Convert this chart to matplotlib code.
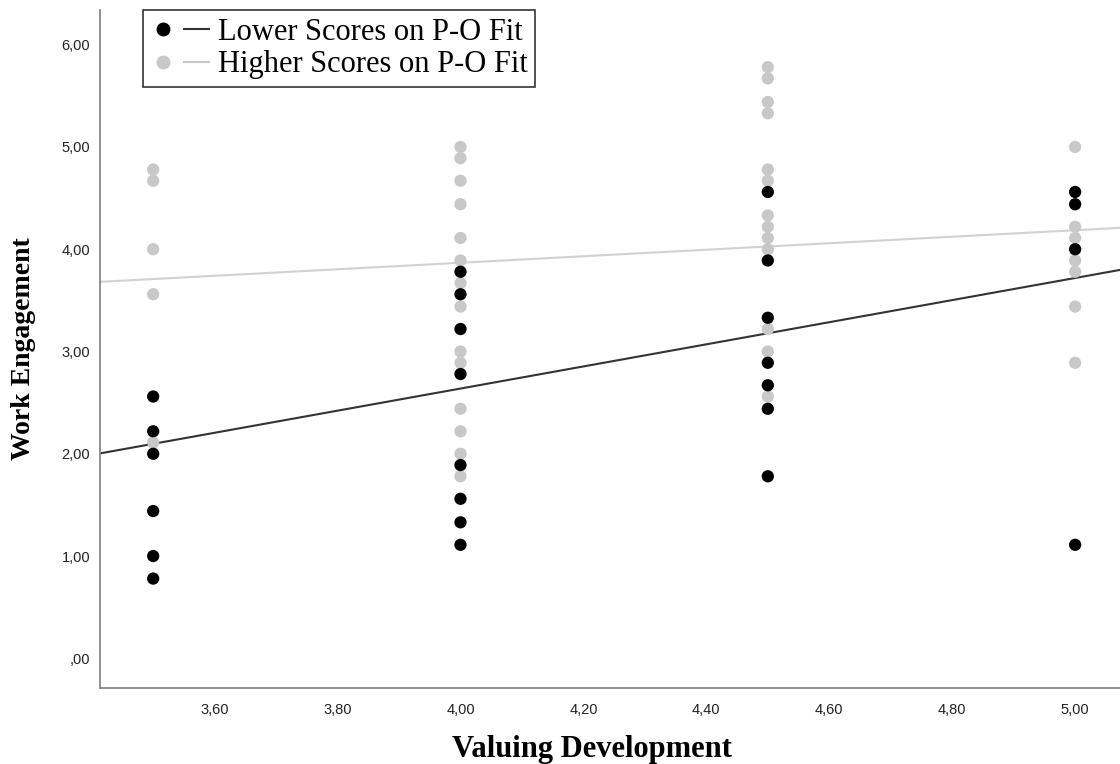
import matplotlib
matplotlib.use("Agg")
import matplotlib.pyplot as plt
from matplotlib.lines import Line2D
from matplotlib.legend_handler import HandlerTuple

# ---- data ----
lower_x = [3.5]*6 + [4.0]*8 + [4.5]*7 + [5.0]*4
lower_y = [2.56, 2.22, 2.00, 1.44, 1.00, 0.78,
           3.78, 3.56, 3.22, 2.78, 1.89, 1.56, 1.33, 1.11,
           4.56, 3.89, 3.33, 2.89, 2.67, 2.44, 1.78,
           4.56, 4.44, 4.00, 1.11]
higher_x = [3.5]*5 + [4.0]*14 + [4.5]*13 + [5.0]*7
higher_y = [4.78, 4.67, 4.00, 3.56, 2.11,
            5.00, 4.89, 4.67, 4.44, 4.11, 3.89, 3.67, 3.44, 3.00, 2.89, 2.44, 2.22, 2.00, 1.78,
            5.78, 5.67, 5.44, 5.33, 4.78, 4.67, 4.33, 4.22, 4.11, 4.00, 3.22, 3.00, 2.56,
            5.00, 4.22, 4.11, 3.89, 3.78, 3.44, 2.89]
fit_x = [3.41, 5.075]
lower_fit = [2.00, 3.80]
higher_fit = [3.68, 4.21]
x_ticks = [3.6, 3.8, 4.0, 4.2, 4.4, 4.6, 4.8, 5.0]
x_ticklabels = ["3,60", "3,80", "4,00", "4,20", "4,40", "4,60", "4,80", "5,00"]
y_ticks = [0, 1, 2, 3, 4, 5, 6]
y_ticklabels = [",00", "1,00", "2,00", "3,00", "4,00", "5,00", "6,00"]
labels = ["Lower Scores on P-O Fit", "Higher Scores on P-O Fit"]

black = "#000000"
gray = "#c8c8c8"

fig = plt.figure(figsize=(11.2, 7.64), dpi=100)
ax = fig.add_axes([0.0893, 0.0995, 0.9107, 0.8875])

ax.plot(fit_x, higher_fit, color="#d2d2d2", lw=1.5, zorder=2)
ax.plot(fit_x, lower_fit, color="#333333", lw=1.5, zorder=2)
ax.scatter(higher_x, higher_y, s=78, color=gray, edgecolors="none", zorder=3)
ax.scatter(lower_x, lower_y, s=78, color=black, edgecolors="none", zorder=4)

ax.set_xlim(3.4135, 5.073)
ax.set_ylim(-0.29, 6.34)
ax.set_xticks(x_ticks)
ax.set_xticklabels(x_ticklabels, fontfamily="Liberation Sans", fontsize=10.5, color="#222222")
ax.set_yticks(y_ticks)
ax.set_yticklabels(y_ticklabels, fontfamily="Liberation Sans", fontsize=10.5, color="#222222")
ax.tick_params(axis="y", length=0, pad=7)
ax.tick_params(axis="x", length=0, pad=11)
for s in ["top", "right"]:
    ax.spines[s].set_visible(False)
for s in ["left", "bottom"]:
    ax.spines[s].set_color("#888888")
    ax.spines[s].set_linewidth(1.3)

ax.set_xlabel("Valuing Development", fontfamily="Liberation Serif", fontweight="bold",
              fontsize=22)
ax.xaxis.set_label_coords(0.482, -0.07)
ax.set_ylabel("Work Engagement", fontfamily="Liberation Serif", fontweight="bold",
              fontsize=20)
ax.yaxis.set_label_coords(-0.063, 0.5)

h1 = (Line2D([], [], marker="o", ls="none", color=black, markersize=9),
      Line2D([], [], color="#333333", lw=1.5))
h2 = (Line2D([], [], marker="o", ls="none", color=gray, markersize=9),
      Line2D([], [], color="#c8c8c8", lw=1.5))
leg = ax.legend([h1, h2], labels, handler_map={tuple: HandlerTuple(ndivide=None, pad=0.3)},
                loc="upper left", bbox_to_anchor=(0.042, 1.0), frameon=True, fancybox=False,
                prop={"family": "Liberation Serif", "size": 22}, handlelength=1.9,
                handletextpad=0.3, borderpad=0.25, labelspacing=0.12, borderaxespad=0)
leg.get_frame().set_edgecolor("#000000")
leg.get_frame().set_linewidth(1.2)

fig.savefig("out.png", dpi=100)
